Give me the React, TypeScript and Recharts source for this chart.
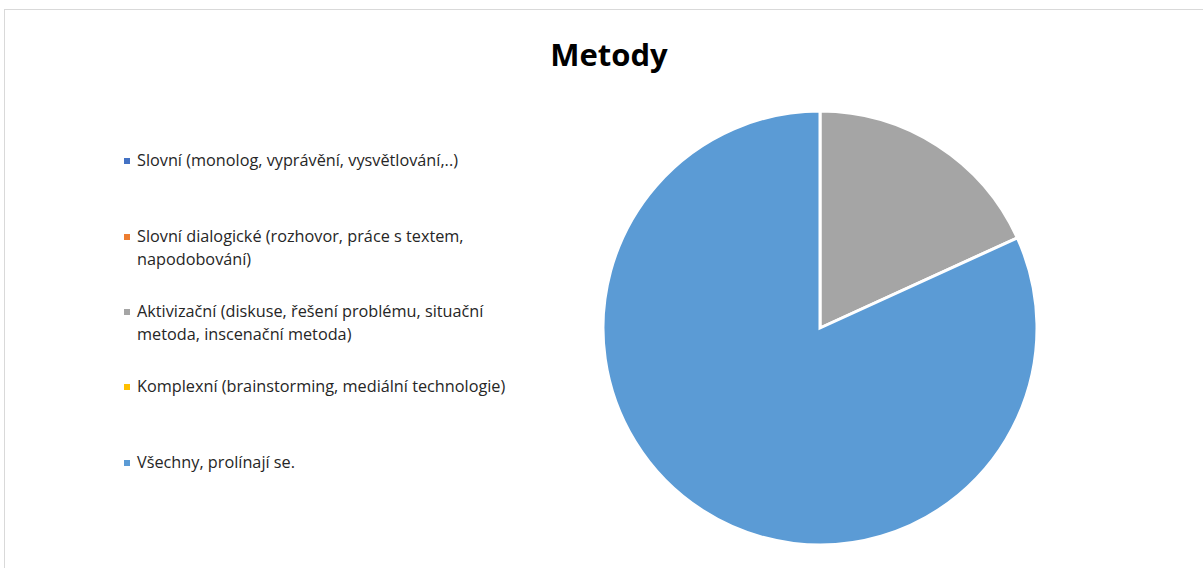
import { PieChart, Pie, Cell } from 'recharts';

const categories = [
  'Slovní (monolog, vyprávění, vysvětlování,..)',
  'Slovní dialogické (rozhovor, práce s textem, napodobování)',
  'Aktivizační (diskuse, řešení problému, situační metoda, inscenační metoda)',
  'Komplexní (brainstorming, mediální technologie)',
  'Všechny, prolínají se.',
];
const values = [0, 0, 2, 0, 9];
const colors = ['#4472C4', '#ED7D31', '#A5A5A5', '#FFC000', '#5B9BD5'];
const itemTops = [149, 225, 300, 375, 451];

const data = categories.map((name, i) => ({ name, value: values[i] }));

const FONT = '"Open Sans", "Noto Sans", sans-serif';

function MethodLegend() {
  return (
    <div style={{ position: 'absolute', left: 124, top: 0, width: 420 }}>
      {categories.map((name, i) => (
        <div
          key={name}
          style={{ position: 'absolute', left: 0, top: itemTops[i], display: 'flex', alignItems: 'flex-start' }}
        >
          <span
            style={{ width: 6, height: 6, background: colors[i], marginTop: 9, marginRight: 7, flexShrink: 0 }}
          />
          <span style={{ width: 385, fontSize: 16.25, lineHeight: '23px', color: '#262626', fontFamily: FONT }}>
            {name}
          </span>
        </div>
      ))}
    </div>
  );
}

export default function App() {
  return (
    <div style={{ position: 'absolute', left: 0, top: 0, width: 1203, height: 568, background: '#fff', overflow: 'hidden' }}>
      <div
        style={{
          position: 'absolute',
          left: 4,
          top: 9,
          width: 1260,
          height: 620,
          border: '1.5px solid #d9d9d9',
          boxSizing: 'border-box',
        }}
      />
      <div
        style={{
          position: 'absolute',
          left: 0,
          width: 1218,
          top: 33,
          textAlign: 'center',
          fontFamily: FONT,
          fontWeight: 700,
          fontSize: 31,
          lineHeight: '42px',
          color: '#000',
        }}
      >
        Metody
      </div>
      <MethodLegend />
      <PieChart
        width={1203}
        height={568}
        margin={{ top: 0, right: 0, bottom: 0, left: 0 }}
        style={{ position: 'absolute', left: 0, top: 0 }}
      >
        <Pie
          data={data}
          dataKey="value"
          nameKey="name"
          cx={820}
          cy={328}
          outerRadius={217}
          startAngle={90}
          endAngle={-270}
          stroke="#fff"
          strokeWidth={3}
          isAnimationActive={false}
        >
          {data.map((d, i) => (
            <Cell key={d.name} fill={colors[i]} />
          ))}
        </Pie>
      </PieChart>
    </div>
  );
}
